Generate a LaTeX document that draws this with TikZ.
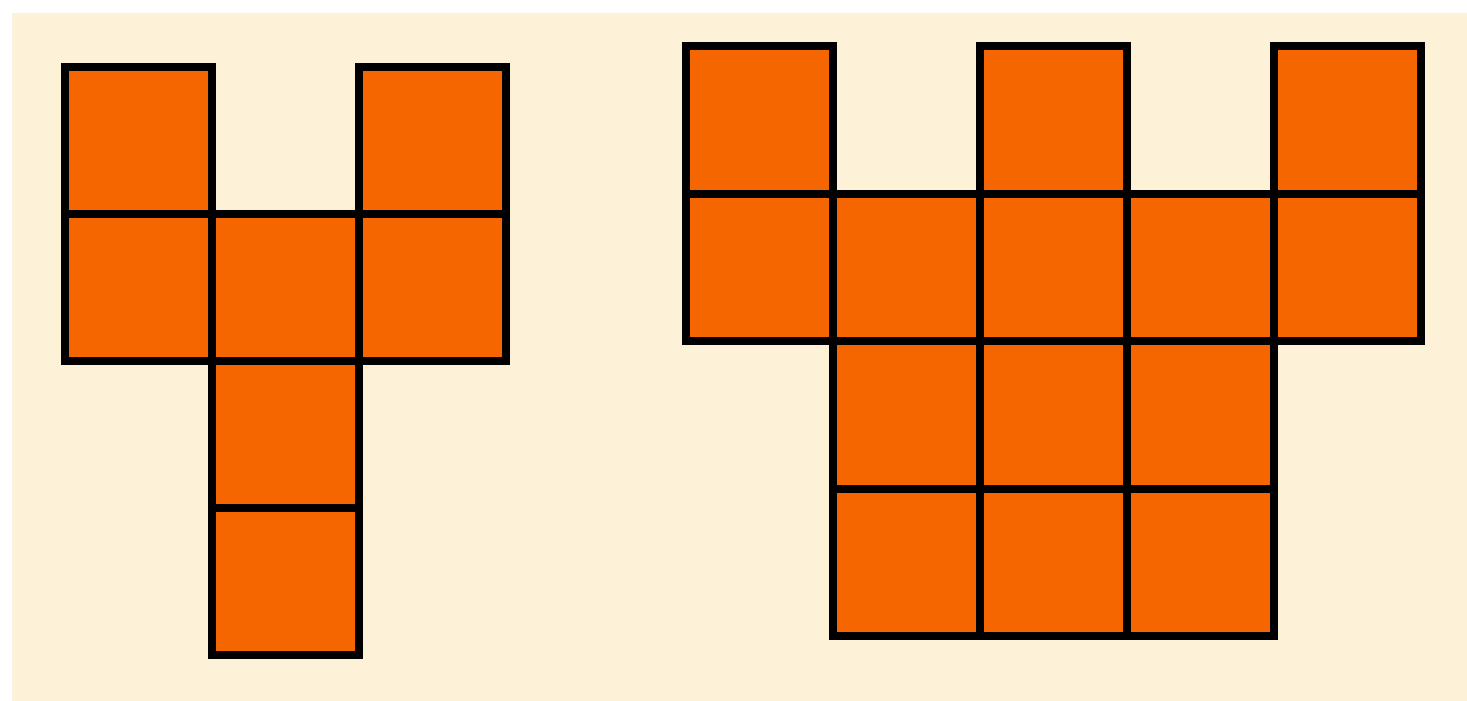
\documentclass[tikz,border=0pt]{standalone}
\definecolor{cream}{RGB}{253,242,216}
\definecolor{tile}{RGB}{245,102,0}
\begin{document}
\begin{tikzpicture}[x=1pt,y=-1pt,
  cell/.style={fill=tile,draw=black,line width=7.5pt,line join=miter}]
\useasboundingbox (0,0) rectangle (1467,701);
\fill[white] (0,0) rectangle (1467,701);
\fill[cream] (12,13) rectangle (1480,715);
% left figure
\foreach \x/\y in {65/67,359/67,65/214,212/214,359/214,212/361,212/508}
  \draw[cell] (\x,\y) rectangle ++(147,147);
% right figure
\foreach \x in {686,980,1274} \draw[cell] (\x,46) rectangle ++(147,148);
\foreach \x in {686,833,980,1127,1274} \draw[cell] (\x,194) rectangle ++(147,147);
\foreach \x in {833,980,1127} {
  \draw[cell] (\x,341) rectangle ++(147,148);
  \draw[cell] (\x,489) rectangle ++(147,147);
}
\end{tikzpicture}
\end{document}
